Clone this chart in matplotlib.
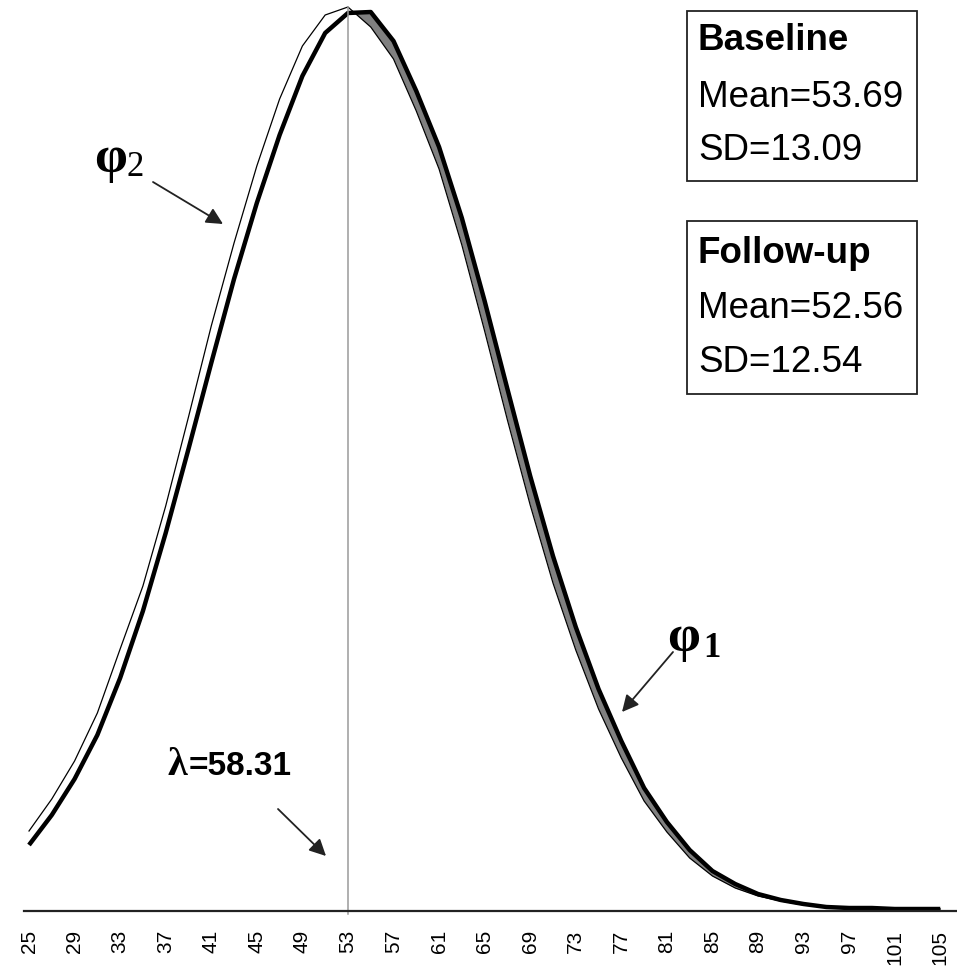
import matplotlib
matplotlib.use("Agg")
import matplotlib.pyplot as plt
import numpy as np
from matplotlib.patches import Rectangle, FancyArrowPatch

# ---------------- data ----------------
score = [25, 27, 29, 31, 33, 35, 37, 39, 41, 43, 45, 47, 49, 51, 53, 55, 57, 59, 61, 63, 65,
         67, 69, 71, 73, 75, 77, 79, 81, 83, 85, 87, 89, 91, 93, 95, 97, 99, 101, 103, 105]

# relative density (arbitrary units, chart height)
phi1_baseline = [66, 96, 132, 176, 233, 300, 378, 462, 548, 632, 708, 776, 835, 878, 898, 899,
                 870, 820, 764, 693, 610, 522, 435, 355, 284, 222, 170, 123, 89, 61, 40, 27,
                 17, 11, 7, 4, 3, 3, 2, 2, 2]
phi2_followup = [80, 112, 150, 198, 262, 325, 405, 494, 585, 668, 745, 812, 865, 896, 904, 884,
                 852, 800, 742, 666, 580, 491, 406, 328, 261, 202, 153, 110, 79, 53, 35, 23,
                 15, 10, 6, 4, 3, 2, 2, 2, 2]

tick_values = [25, 29, 33, 37, 41, 45, 49, 53, 57, 61, 65, 69, 73, 77, 81, 85, 89, 93, 97, 101, 105]
tick_labels = [str(v) for v in tick_values]

lambda_pos = 53
lambda_top = 904

baseline_lines = ["Baseline", "Mean=53.69", "SD=13.09"]
followup_lines = ["Follow-up", "Mean=52.56", "SD=12.54"]
lambda_label = "=58.31"

# ---------------- figure ----------------
W, H = 957, 978
fig = plt.figure(figsize=(W / 100, H / 100), dpi=100)
ax = fig.add_axes([24 / W, (H - 912) / H, 1 - 24 / W, 912 / H])
ax.set_xlim(24.56, 106.47)
ax.set_ylim(0, 912)

p1 = np.array(phi1_baseline, dtype=float)
p2 = np.array(phi2_followup, dtype=float)

# gray band where the baseline curve lies above the follow-up curve
ax.fill_between(score, p2, p1, where=p1 >= p2, interpolate=True,
                color="#808080", lw=0, zorder=1)
ax.plot(score, p2, color="black", lw=0.9, zorder=3)
ax.plot(score, p1, color="black", lw=3.2, zorder=4, solid_capstyle="butt")

# lambda line
ax.plot([lambda_pos, lambda_pos], [-3, lambda_top], color="#9a9a9a", lw=1.1, zorder=5,
        clip_on=False)

for s in ["top", "right", "left"]:
    ax.spines[s].set_visible(False)
ax.spines["bottom"].set_linewidth(1.6)
ax.spines["bottom"].set_color("#222222")
ax.spines["bottom"].set_zorder(6)
ax.set_yticks([])
ax.set_xticks(tick_values)
ax.set_xticklabels(tick_labels, rotation=90, fontsize=15, family="Liberation Sans")
ax.tick_params(axis="x", length=0, pad=13)


def fx(px):
    return px / W


def fy(py):
    return 1 - py / H


sans = "Liberation Sans"
serif = "Liberation Serif"

# boxes
for (x0, y0, x1, y1), lines, baselines in [
    ((687, 12, 917, 182), baseline_lines, [50, 107, 160]),
    ((687, 222, 917, 395), followup_lines, [263, 318, 372]),
]:
    fig.patches.append(Rectangle((fx(x0), fy(y1)), fx(x1) - fx(x0), fy(y0) - fy(y1),
                                 transform=fig.transFigure, fill=False, ec="#222222",
                                 lw=1.3, zorder=10))
    for i, (t, b) in enumerate(zip(lines, baselines)):
        fig.text(fx(698), fy(b), t, fontsize=26.5, family=sans,
                 weight="bold" if i == 0 else "normal", va="baseline", ha="left", zorder=11)

# phi labels
fig.text(fx(111), fy(172), "φ", fontsize=38, family=serif, weight="bold",
         ha="center", va="baseline")
fig.text(fx(127), fy(176), "2", fontsize=25, family=serif, ha="left", va="baseline")
fig.text(fx(684), fy(651), "φ", fontsize=38, family=serif, weight="bold",
         ha="center", va="baseline")
fig.text(fx(703), fy(657), "1", fontsize=25, family=serif, weight="bold",
         ha="left", va="baseline")

# lambda label
fig.text(fx(168), fy(775), "λ", fontsize=29, family=serif, weight="bold",
         ha="left", va="baseline")
fig.text(fx(189), fy(775), lambda_label, fontsize=24, family=sans, weight="bold",
         ha="left", va="baseline")

# arrows
arrow_kw = dict(arrowstyle="-|>", color="#222222", lw=1.3, mutation_scale=25,
                shrinkA=0, shrinkB=0)
for (sx, sy), (tx, ty) in [((153, 183), (223, 225)),
                           ((673, 653), (622, 713)),
                           ((278, 810), (326, 857))]:
    fig.patches.append(FancyArrowPatch(
        (fx(sx), fy(sy)), (fx(tx), fy(ty)), transform=fig.transFigure, **arrow_kw))

fig.savefig("out.png", dpi=100)
